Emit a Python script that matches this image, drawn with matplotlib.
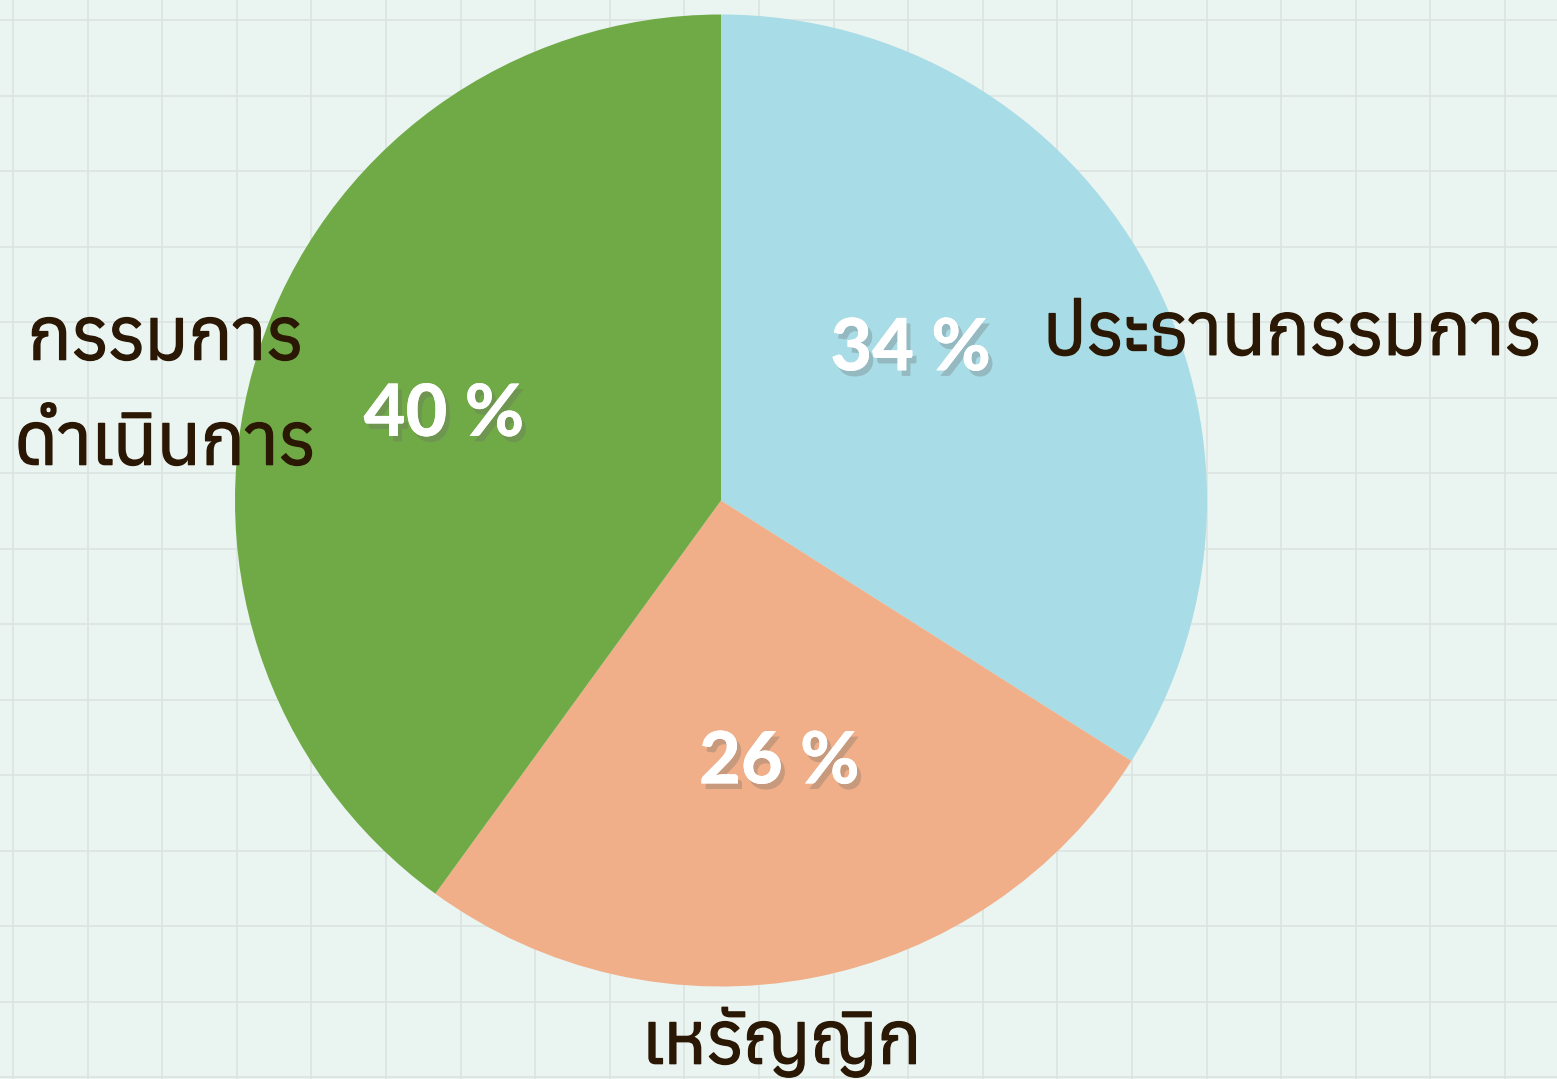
import matplotlib
matplotlib.use("Agg")
import matplotlib.pyplot as plt
import matplotlib.patheffects as pe
from matplotlib import font_manager
from fontTools.ttLib import TTFont
import numpy as np

labels = ["ประธานกรรมการ", "เหรัญญิก", "กรรมการ\nดำเนินการ"]
shares = [34, 26, 40]
pct_text = ["34 %", "26 %", "40 %"]
colors = ["#a8dce6", "#f0af88", "#70aa46"]


def thai_fonts():
    found = []
    for f in font_manager.fontManager.ttflist:
        try:
            tt = TTFont(f.fname, fontNumber=0, lazy=True)
            cmap = tt.getBestCmap()
            if cmap and ord("ก") in cmap:
                found.append(f.name)
        except Exception:
            pass
    return sorted(set(found))


label_family = thai_fonts() + ["DejaVu Sans"]

fig = plt.figure(figsize=(15.57, 10.79), dpi=100)
fig.patch.set_facecolor("#eaf4f1")

# background grid
bg = fig.add_axes([0, 0, 1, 1])
bg.set_xlim(0, 1557)
bg.set_ylim(1079, 0)
bg.set_facecolor("#eaf4f1")
for x in np.arange(13, 1557, 74.6):
    bg.axvline(x, color="#dce4e1", lw=1.2)
for y in np.arange(20, 1079, 75.5):
    bg.axhline(y, color="#dce4e1", lw=1.2)
bg.axis("off")

# pie, radius 1 = 486 px
R = 486.0
ax = fig.add_axes([235 / 1557, 1 - 987 / 1079, 972 / 1557, 973 / 1079])
wedges, _ = ax.pie(shares, colors=colors, startangle=90, counterclock=False,
                   radius=1.0, wedgeprops=dict(linewidth=0))
ax.set_xlim(-1, 1)
ax.set_ylim(-1, 1)
ax.set_aspect("equal")
ax.axis("off")

shadow = [pe.withSimplePatchShadow(offset=(3, -4), shadow_rgbFace="#6a6a6a", alpha=0.3), pe.Normal()]
pct_pos = [(0.39, 0.31), (0.12, -0.54), (-0.57, 0.175)]
for t, (px, py) in zip(pct_text, pct_pos):
    ax.text(px, py, t, ha="center", va="center", color="white", fontsize=52,
            fontweight="black", family=["Lato", "DejaVu Sans"], path_effects=shadow)

label_color = "#2b1804"
thicken = [pe.withStroke(linewidth=1.0, foreground=label_color)]
lab_pos = [(1.175, 0.34), (0.125, -1.115), (-1.144, 0.222)]
line_gap = 105 / R
for t, (px, py) in zip(labels, lab_pos):
    lines = t.split("\n")
    n = len(lines)
    for i, ln in enumerate(lines):
        ax.text(px, py - (i - (n - 1) / 2) * line_gap, ln, ha="center", va="center",
                color=label_color, fontsize=52, fontweight="bold",
                family=label_family, clip_on=False, path_effects=thicken)

fig.savefig("out.png", dpi=100, facecolor=fig.get_facecolor())
